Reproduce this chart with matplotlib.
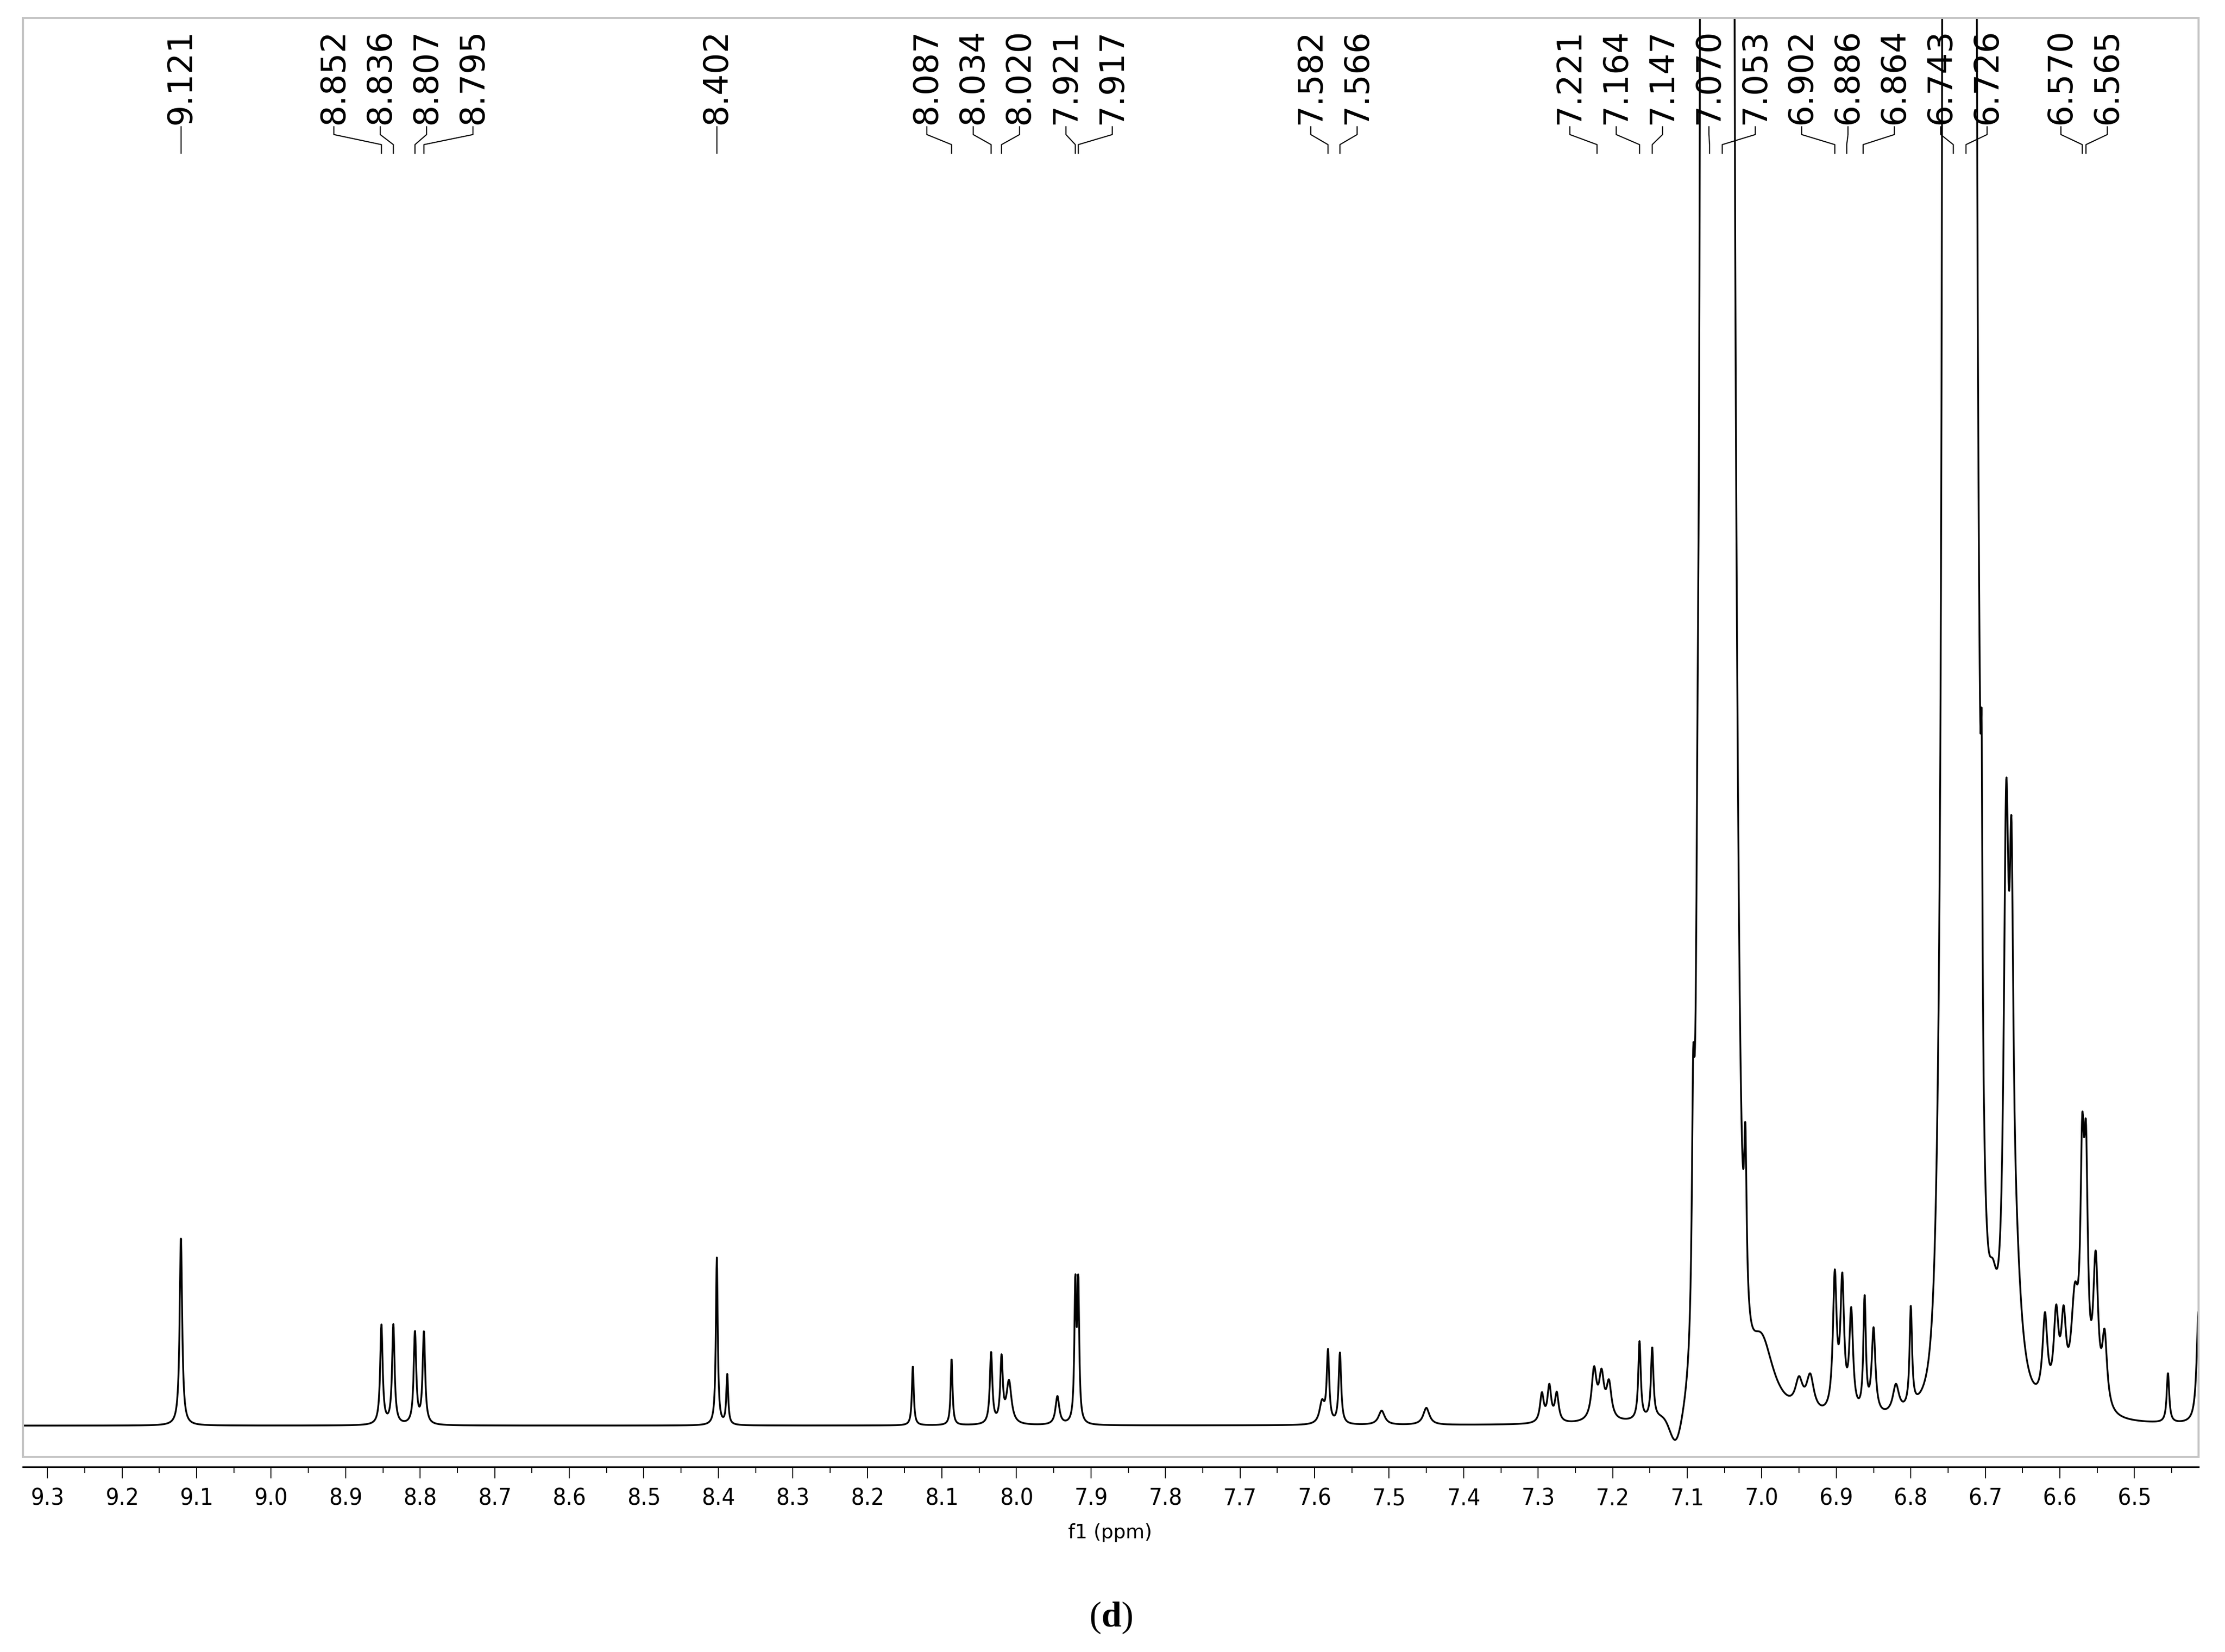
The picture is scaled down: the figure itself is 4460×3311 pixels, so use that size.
import matplotlib
matplotlib.use("Agg")
import matplotlib.pyplot as plt
import matplotlib.transforms as mtransforms
from matplotlib.patches import Rectangle
from matplotlib.ticker import MultipleLocator, FormatStrFormatter
import numpy as np

# peak list: position (ppm), height, half width (ppm)
peak_ppm = [9.121, 8.852, 8.836, 8.807, 8.795, 8.402, 8.388,
            8.139, 8.087, 8.034, 8.020, 8.010, 7.945, 7.921, 7.917,
            7.590, 7.582, 7.566, 7.510, 7.450,
            7.295, 7.285, 7.275, 7.225, 7.215, 7.205, 7.164, 7.147,
            7.092, 7.086, 7.080, 7.040, 7.035, 7.022, 7.000, 6.950, 6.935,
            6.902, 6.892, 6.880, 6.862, 6.850, 6.820, 6.800, 6.760, 6.755,
            6.715, 6.710, 6.705, 6.690, 6.672, 6.665, 6.660,
            6.620, 6.605, 6.595, 6.580, 6.570, 6.565, 6.552, 6.540,
            6.455, 6.414]
peak_height = [133, 70, 70, 65, 65, 118, 35,
               42, 47, 50, 45, 30, 20, 95, 95,
               15, 50, 50, 10, 12,
               20, 25, 20, 35, 30, 25, 55, 50,
               140, 140, 3000, 3000, 250, 110, 50, 20, 25,
               95, 90, 70, 80, 60, 20, 70, 40, 3000,
               3000, 250, 170, 50, 360, 260, 80,
               60, 60, 55, 70, 150, 150, 100, 50,
               35, 80]
peak_width = [0.002, 0.002, 0.002, 0.002, 0.002, 0.0015, 0.0015,
              0.0015, 0.0015, 0.002, 0.002, 0.004, 0.003, 0.0015, 0.0015,
              0.004, 0.002, 0.002, 0.005, 0.005,
              0.003, 0.003, 0.003, 0.004, 0.004, 0.004, 0.002, 0.002,
              0.002, 0.002, 0.0015, 0.0015, 0.006, 0.002, 0.02, 0.006, 0.006,
              0.003, 0.003, 0.003, 0.002, 0.003, 0.005, 0.002, 0.015, 0.0015,
              0.0015, 0.006, 0.0012, 0.008, 0.004, 0.003, 0.01,
              0.004, 0.004, 0.004, 0.006, 0.003, 0.003, 0.004, 0.004,
              0.002, 0.003]

# broad plateaus under the strong signals and the dip near 7.11 ppm
plateau_ppm = [7.060, 6.735, 7.115]
plateau_height = [2000, 2000, -22]
plateau_sigma = [0.012, 0.012, 0.008]

# annotated shifts
label_ppm = [9.121, 8.852, 8.836, 8.807, 8.795, 8.402,
             8.087, 8.034, 8.020, 7.921, 7.917, 7.582, 7.566,
             7.221, 7.164, 7.147, 7.070, 7.053, 6.902, 6.886, 6.864,
             6.743, 6.726, 6.570, 6.565]

x_left, x_right = 9.333, 6.414

ppm = np.arange(x_right, x_left, 0.0004)
spec = np.zeros_like(ppm)
for c, h, w in zip(peak_ppm, peak_height, peak_width):
    spec += h / (1 + ((ppm - c) / w) ** 2)
for c, h, s in zip(plateau_ppm, plateau_height, plateau_sigma):
    spec += h * np.exp(-0.5 * ((ppm - c) / s) ** 2)


def spread_labels(pos, gap):
    # pos in ppm; spread text positions so they are at least gap apart
    order = sorted(pos, reverse=True)
    clusters = [[p] for p in order]
    changed = True
    while changed:
        changed = False
        out = [clusters[0]]
        for cl in clusters[1:]:
            prev = out[-1]
            pc = np.mean(prev)
            cc = np.mean(cl)
            prev_low = pc - (len(prev) - 1) / 2 * gap
            cur_high = cc + (len(cl) - 1) / 2 * gap
            if prev_low - cur_high < gap:
                out[-1] = prev + cl
                changed = True
            else:
                out.append(cl)
        clusters = out
    res = {}
    for cl in clusters:
        c = np.mean(cl)
        n = len(cl)
        for i, p in enumerate(cl):
            res[p] = c + ((n - 1) / 2 - i) * gap
    return [res[p] for p in pos]


fig = plt.figure(figsize=(44.6, 33.12), dpi=100)
ax = fig.add_axes([0.0103, 0.1181, 0.9778, 0.8707])
ax.plot(ppm, spec, color="black", lw=2.6)
ax.set_xlim(x_left, x_right)
ax.set_ylim(-22, 992)

for s in ["top", "left", "right"]:
    ax.spines[s].set_visible(False)
ax.add_patch(Rectangle((0, 0), 1, 1, transform=ax.transAxes, fill=False,
                       edgecolor="#c4c4c4", lw=3, clip_on=False, zorder=5))
ax.spines["bottom"].set_position(("outward", 14.4))
ax.spines["bottom"].set_linewidth(2.2)
ax.set_yticks([])
ax.xaxis.set_major_locator(MultipleLocator(0.1))
ax.xaxis.set_minor_locator(MultipleLocator(0.05))
ax.xaxis.set_major_formatter(FormatStrFormatter("%.1f"))
ax.tick_params(axis="x", which="major", direction="out", length=16.6, width=1.4,
               pad=13, labelsize=34)
ax.tick_params(axis="x", which="minor", direction="out", length=8.6, width=1.4)
for t in ax.get_xticklabels():
    t.set_fontstretch("condensed")

trans = mtransforms.blended_transform_factory(ax.transData, ax.transAxes)
text_x = spread_labels(label_ppm, 0.0622)
for p, tx in zip(label_ppm, text_x):
    ax.text(tx, 0.9265, f"{p:.3f}", rotation=90, ha="center", va="bottom",
            fontsize=48, transform=trans, clip_on=False)
    if abs(tx - p) < 1e-6:
        ax.plot([p, p], [0.9244, 0.906], color="black", lw=1.6,
                transform=trans, clip_on=False)
    else:
        ax.plot([tx, tx, p, p], [0.9244, 0.919, 0.912, 0.906], color="black",
                lw=1.6, transform=trans, clip_on=False)

fig.text(0.4988, 0.0725, "f1 (ppm)", ha="center", va="center", fontsize=28)
plt.rcParams["mathtext.fontset"] = "custom"
plt.rcParams["mathtext.bf"] = "Liberation Serif:bold"
plt.rcParams["mathtext.rm"] = "Liberation Serif"
fig.text(0.4993, 0.0211, r"($\mathbf{d}$)", ha="center", va="center",
         fontsize=52, family="Liberation Serif")

fig.savefig("out.png", dpi=100)
